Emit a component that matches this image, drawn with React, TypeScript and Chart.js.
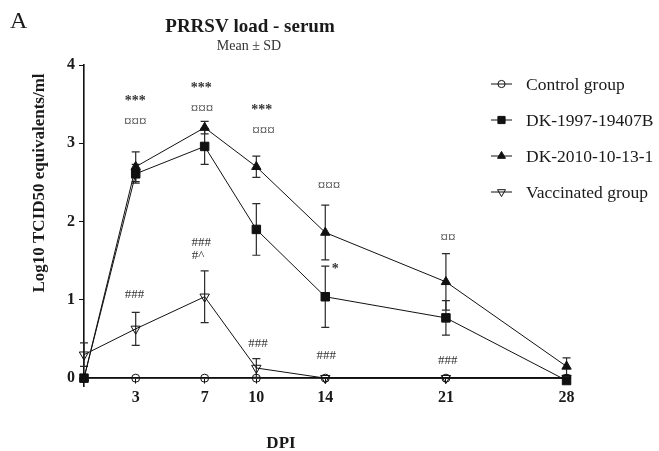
import React, { useEffect, useRef } from 'react';
import { Chart, registerables } from 'chart.js';

Chart.register(...registerables);

// ---------- data ----------
const days = [0, 3, 7, 10, 14, 21, 28];
const xTicks = [3, 7, 10, 14, 21, 28];
const yTicks = [0, 1, 2, 3, 4];
const seriesNames = ['Control group', 'DK-1997-19407B', 'DK-2010-10-13-1', 'Vaccinated group'];

const controlMean = [0, 0, 0, 0, 0, 0, 0];
const controlSd = [0, 0, 0, 0, 0, 0, 0];
const dk1997Mean = [0, 2.61, 2.96, 1.9, 1.04, 0.77, -0.03];
const dk1997Sd = [0, 0.12, 0.23, 0.33, 0.39, 0.22, 0.03];
const dk2010Mean = [0, 2.7, 3.2, 2.7, 1.86, 1.23, 0.15];
const dk2010Sd = [0, 0.19, 0.08, 0.135, 0.35, 0.36, 0.11];
const vaccMean = [0.3, 0.63, 1.04, 0.13, 0, 0, 0];
const vaccSd = [0.15, 0.21, 0.33, 0.12, 0, 0, 0];

const annTexts = ['***', '¤¤¤', '***', '¤¤¤', '***', '¤¤¤', '¤¤¤', '*', '¤¤', '###', '###', '#^', '###', '###', '###'];
const annDays = [2.98, 2.98, 6.8, 6.85, 10.32, 10.41, 14.22, 14.58, 21.12, 2.93, 6.8, 6.62, 10.1, 14.06, 21.11];
const annValues = [3.49, 3.22, 3.66, 3.39, 3.37, 3.1, 2.4, 1.34, 1.74, 1.03, 1.69, 1.52, 0.4, 0.25, 0.18];

const titleText = 'PRRSV load - serum';
const subtitleText = 'Mean ± SD';
const panelLetter = 'A';
const yTitle = 'Log10 TCID50 equivalents/ml';
const xTitle = 'DPI';

// ---------- styles ----------
const SERIF = "'Liberation Serif', 'Times New Roman', serif";
const INK = '#1a1a1a';

type MarkerStyle = 'circle' | 'rect' | 'triangle' | 'triangleDown';
const markerStyles: MarkerStyle[] = ['circle', 'rect', 'triangle', 'triangleDown'];
const markerFills = ['rgba(255,255,255,0)', '#111111', '#111111', 'rgba(255,255,255,0)'];
const means = [controlMean, dk1997Mean, dk2010Mean, vaccMean];
const sds = [controlSd, dk1997Sd, dk2010Sd, vaccSd];

function drawMarker(ctx: CanvasRenderingContext2D, style: MarkerStyle, x: number, y: number, r: number, fill: string) {
  ctx.save();
  ctx.beginPath();
  if (style === 'circle') {
    ctx.arc(x, y, r, 0, Math.PI * 2);
  } else if (style === 'rect') {
    ctx.rect(x - r, y - r, 2 * r, 2 * r);
  } else {
    const dir = style === 'triangle' ? 1 : -1;
    const h = r * 1.5;
    const w = r * Math.sqrt(3);
    ctx.moveTo(x, y - dir * r);
    ctx.lineTo(x + w / 2, y - dir * (r - h));
    ctx.lineTo(x - w / 2, y - dir * (r - h));
    ctx.closePath();
  }
  ctx.fillStyle = fill;
  ctx.fill();
  ctx.lineWidth = 1;
  ctx.strokeStyle = '#111';
  ctx.stroke();
  ctx.restore();
}

function annFont(t: string): string {
  if (t.includes('*')) return `bold 14px ${SERIF}`;
  if (t.includes('¤')) return `15px ${SERIF}`;
  return `13px ${SERIF}`;
}

const errorBarPlugin = {
  id: 'errorBars',
  beforeDatasetsDraw(chart: any) {
    const ctx: CanvasRenderingContext2D = chart.ctx;
    const yScale = chart.scales.y;
    ctx.save();
    ctx.strokeStyle = '#2a2a2a';
    ctx.lineWidth = 1.2;
    sds.forEach((sd, i) => {
      const meta = chart.getDatasetMeta(i);
      sd.forEach((s, j) => {
        if (!s) return;
        const pt = meta.data[j];
        const x = pt.x;
        const top = yScale.getPixelForValue(means[i][j] + s);
        const bot = yScale.getPixelForValue(means[i][j] - s);
        ctx.beginPath();
        ctx.moveTo(x, top);
        ctx.lineTo(x, bot);
        ctx.moveTo(x - 4, top);
        ctx.lineTo(x + 4, top);
        ctx.moveTo(x - 4, bot);
        ctx.lineTo(x + 4, bot);
        ctx.stroke();
      });
    });
    ctx.restore();
  },
};

const textPlugin = {
  id: 'texts',
  afterDraw(chart: any) {
    const ctx: CanvasRenderingContext2D = chart.ctx;
    const xs = chart.scales.x;
    const ys = chart.scales.y;
    ctx.save();
    // panel letter
    ctx.fillStyle = INK;
    ctx.textBaseline = 'alphabetic';
    ctx.textAlign = 'left';
    ctx.font = `24px ${SERIF}`;
    ctx.fillText(panelLetter, 10, 28);
    // title
    ctx.textAlign = 'center';
    ctx.font = `bold 19px ${SERIF}`;
    ctx.fillText(titleText, 250, 32);
    ctx.fillStyle = '#333';
    ctx.font = `14px ${SERIF}`;
    ctx.fillText(subtitleText, 249, 50);
    // x title
    ctx.fillStyle = INK;
    ctx.font = `bold 17px ${SERIF}`;
    ctx.fillText(xTitle, 281, 448);
    // y title
    ctx.save();
    ctx.translate(44, 183);
    ctx.rotate(-Math.PI / 2);
    ctx.textAlign = 'center';
    ctx.font = `bold 17px ${SERIF}`;
    ctx.fillText(yTitle, 0, 0);
    ctx.restore();
    // annotations
    ctx.fillStyle = '#333';
    ctx.textAlign = 'center';
    annTexts.forEach((t, i) => {
      ctx.font = annFont(t);
      ctx.fillText(t, xs.getPixelForValue(annDays[i]), ys.getPixelForValue(annValues[i]));
    });
    // legend
    const lx = 491;
    const lw = 21;
    const tx = 526;
    const baseY = 89.5;
    const gap = 36;
    const legendSizes = [3.6, 3.6, 4.6, 4.6];
    seriesNames.forEach((name, i) => {
      const by = baseY + i * gap;
      const my = by - 5.5;
      ctx.strokeStyle = '#111';
      ctx.lineWidth = 1;
      ctx.beginPath();
      ctx.moveTo(lx, my);
      ctx.lineTo(lx + lw, my);
      ctx.stroke();
      drawMarker(ctx, markerStyles[i], lx + lw / 2, my, legendSizes[i], markerFills[i]);
      ctx.fillStyle = INK;
      ctx.font = `17.5px ${SERIF}`;
      ctx.textAlign = 'left';
      ctx.fillText(name, tx, by);
    });
    ctx.restore();
  },
};

function buildConfig(): any {
  const pointStyles = ['circle', 'rect', 'triangle', 'triangle'];
  const pointRadii = [4, 6, 5.4, 5.4];
  const rotations = [0, 0, 0, 180];
  const drawOrder = [4, 1, 2, 3];
  const datasets = seriesNames.map((name, i) => ({
    label: name,
    data: days.map((d, j) => ({ x: d, y: means[i][j] })),
    order: drawOrder[i],
    borderColor: '#111',
    borderWidth: 1,
    backgroundColor: markerFills[i],
    pointBackgroundColor: markerFills[i],
    pointBorderColor: '#111',
    pointBorderWidth: 1,
    pointStyle: pointStyles[i],
    pointRadius: pointRadii[i],
    pointRotation: rotations[i],
    fill: false,
    tension: 0,
    clip: false,
  }));
  return {
    type: 'line',
    data: { datasets },
    options: {
      animation: false,
      responsive: false,
      devicePixelRatio: 1,
      layout: { padding: { left: 0, top: 65, right: 89, bottom: 65 } },
      plugins: { legend: { display: false }, tooltip: { enabled: false }, title: { display: false } },
      scales: {
        x: {
          type: 'linear',
          min: 0,
          max: 28.2,
          position: { y: 0 },
          afterBuildTicks: (s: any) => {
            s.ticks = xTicks.map((v) => ({ value: v }));
          },
          grid: { drawOnChartArea: false, drawTicks: true, tickLength: 5, color: '#111' },
          border: { display: true, color: '#111', width: 1.6 },
          ticks: {
            autoSkip: false,
            maxRotation: 0,
            color: INK,
            padding: 5,
            font: { family: SERIF, size: 16, weight: 'bold' },
          },
        },
        y: {
          type: 'linear',
          min: -0.1,
          max: 4,
          position: 'left',
          afterBuildTicks: (s: any) => {
            s.ticks = yTicks.map((v) => ({ value: v }));
          },
          afterFit: (s: any) => {
            s.width = 84;
          },
          grid: { drawOnChartArea: false, drawTicks: true, tickLength: 5, color: '#111' },
          border: { display: true, color: '#111', width: 1.6 },
          ticks: {
            color: INK,
            padding: 4,
            font: { family: SERIF, size: 16, weight: 'bold' },
          },
        },
      },
    },
    plugins: [errorBarPlugin, textPlugin],
  };
}

export default function App() {
  const ref = useRef<HTMLCanvasElement>(null);
  useEffect(() => {
    document.body.style.margin = '0';
    const chart = new Chart(ref.current as HTMLCanvasElement, buildConfig());
    return () => chart.destroy();
  }, []);
  return (
    <div style={{ position: 'absolute', left: 0, top: 0, width: 659, height: 451, background: '#fff' }}>
      <canvas ref={ref} width={659} height={451} style={{ display: 'block' }} />
    </div>
  );
}
